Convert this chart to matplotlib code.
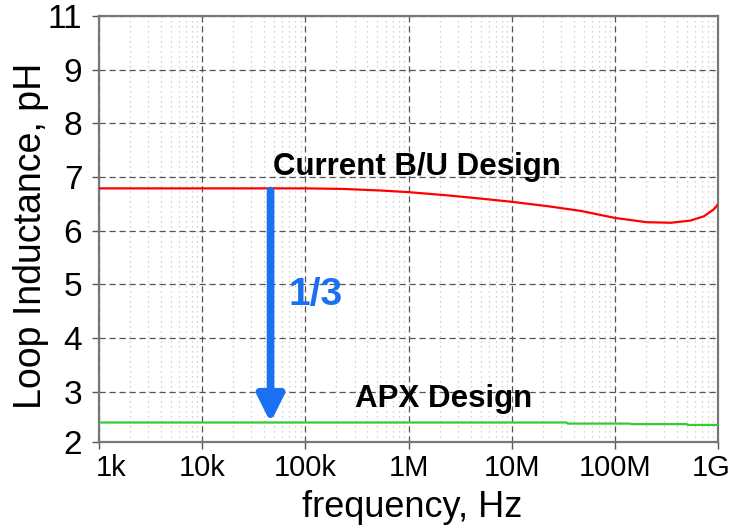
import numpy as np
import matplotlib
matplotlib.use("Agg")
import matplotlib.pyplot as plt
import matplotlib.transforms as mtransforms
from matplotlib.ticker import FixedLocator, LogLocator, NullFormatter

# ---- data ----
red_freq = [1e3, 1e4, 1e5, 2.3e5, 5.4e5, 1e6, 2.37e6, 5e6, 1e7, 2.2e7, 4.7e7,
            1e8, 2.04e8, 3.5e8, 5.4e8, 7.3e8, 9.1e8, 1e9]
red_L    = [6.79, 6.79, 6.79, 6.78, 6.75, 6.72, 6.66, 6.60, 6.54, 6.46, 6.37,
            6.24, 6.16, 6.15, 6.19, 6.27, 6.40, 6.49]
green_freq = [1e3, 3.4e7, 3.5e7, 1.4e8, 1.45e8, 5.0e8, 5.1e8, 1e9]
green_L    = [2.43, 2.43, 2.41, 2.41, 2.40, 2.40, 2.385, 2.385]
xticks = [1e3, 1e4, 1e5, 1e6, 1e7, 1e8, 1e9]
xtick_labels = ["1k", "10k", "100k", "1M", "10M", "100M", "1G"]
ybottom = 2.067
yticks = [ybottom, 3, 4, 5, 6, 7, 8, 9, 10]
ytick_labels = ["2", "3", "4", "5", "6", "7", "8", "9", "11"]
arrow_freq = 4.6e4
arrow_from, arrow_to = 6.75, 2.43

FONT = "Liberation Sans"
BLUE = "#1a70f2"

fig = plt.figure(figsize=(7.31, 5.26), dpi=100)
ax = fig.add_axes([99/731, 1-442/526, (718-99)/731, (442-16)/526])
ax.set_xscale("log")
ax.set_xlim(1e3, 1e9)
ax.set_ylim(ybottom, 10)

ax.plot(red_freq, red_L, color="#ff0000", lw=1.6, zorder=3)
ax.plot(green_freq, green_L, color="#33cc33", lw=1.6, zorder=3)

ax.xaxis.set_major_locator(FixedLocator(xticks))
ax.set_xticklabels(xtick_labels)
ax.xaxis.set_minor_locator(LogLocator(base=10, subs=np.arange(2, 10), numticks=100))
ax.xaxis.set_minor_formatter(NullFormatter())
ax.set_yticks(yticks)
ax.set_yticklabels(ytick_labels)

ax.grid(which="major", axis="both", color="#555555", ls=(0, (5, 3)), lw=0.9)
ax.grid(which="minor", axis="x", color="#c4c4c4", ls=(0, (1, 3)), lw=0.9)
ax.set_axisbelow(True)

for s in ax.spines.values():
    s.set_color("#777777")
    s.set_linewidth(1.6)
ax.tick_params(which="major", direction="out", length=5, width=1, color="#555555")
ax.tick_params(axis="x", which="major", labelsize=21, pad=4)
ax.tick_params(axis="y", which="major", labelsize=24, pad=7)
ax.tick_params(which="minor", length=0)
for lab in ax.get_xticklabels() + ax.get_yticklabels():
    lab.set_fontfamily(FONT)
xl = ax.get_xticklabels()
xl[0].set_transform(xl[0].get_transform() + mtransforms.ScaledTranslation(12/100, 0, fig.dpi_scale_trans))
xl[-1].set_transform(xl[-1].get_transform() + mtransforms.ScaledTranslation(-7/100, 0, fig.dpi_scale_trans))

ax.set_xlabel("frequency, Hz", fontsize=26, family=FONT)
ax.xaxis.set_label_coords(0.506, -0.113)
ax.set_ylabel("Loop Inductance, pH", fontsize=27, family=FONT)
ax.yaxis.set_label_coords(-0.081, 0.485)

ax.annotate("", xy=(arrow_freq, arrow_to), xytext=(arrow_freq, arrow_from),
            arrowprops=dict(arrowstyle="-|>,head_length=1.6,head_width=0.8",
                            color=BLUE, lw=5.5, shrinkA=0, shrinkB=0), zorder=4)
ax.text(1.26e5, 4.80, "1/3", color=BLUE, fontsize=28, fontweight="bold",
        family=FONT, ha="center", va="center")
ax.text(1.22e6, 7.03, "Current B/U Design", fontsize=22.5, fontweight="bold",
        family=FONT, ha="center", va="baseline")
ax.text(2.19e6, 2.71, "APX Design", fontsize=22.5, fontweight="bold",
        family=FONT, ha="center", va="baseline")

fig.savefig("out.png", dpi=100)
